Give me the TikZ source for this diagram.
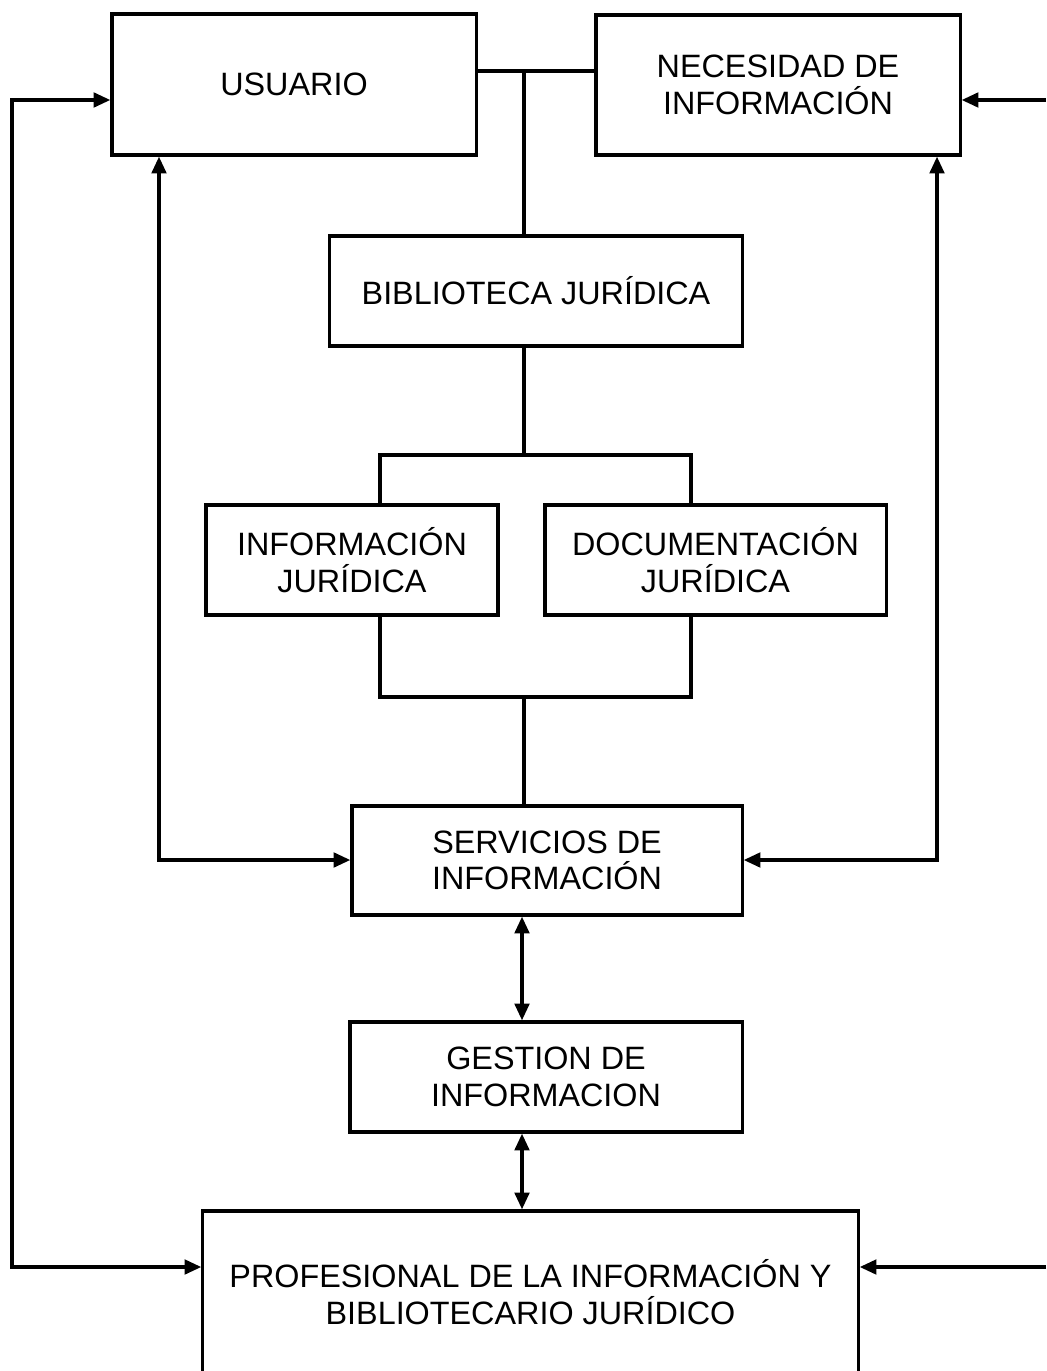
\documentclass[tikz,border=0pt]{standalone}
\usepackage{fontspec}
\setmainfont{Liberation Sans}
\usetikzlibrary{arrows.meta}
\begin{document}
\begin{tikzpicture}[x=0.025cm,y=-0.025cm,
  box/.style={draw, line width=2.2pt, inner sep=0pt, align=center,
    font=\fontsize{23}{26}\selectfont},
  link/.style={line width=2.6pt},
  arr/.style={line width=2.6pt, -{Triangle[length=0.42cm,width=0.36cm]}},
  darr/.style={line width=2.6pt, {Triangle[length=0.42cm,width=0.36cm]}-{Triangle[length=0.42cm,width=0.36cm]}}]
\clip (0,0) rectangle (1046,1371);
\fill[white] (0,0) rectangle (1046,1371);
% boxes
\node[box, minimum width=9.1cm, minimum height=3.525cm] (usu) at (294,84.5) {USUARIO};
\node[box, minimum width=9.1cm, minimum height=3.5cm] (nec) at (778,85) {NECESIDAD DE\\INFORMACIÓN};
\node[box, minimum width=10.3cm, minimum height=2.75cm] (bib) at (536,291) {BIBLIOTECA JURÍDICA};
\node[box, minimum width=7.3cm, minimum height=2.75cm] (inf) at (352,560) {INFORMACIÓN\\JURÍDICA};
\node[box, minimum width=8.525cm, minimum height=2.75cm] (doc) at (715.5,560) {DOCUMENTACIÓN\\JURÍDICA};
\node[box, minimum width=9.75cm, minimum height=2.725cm] (ser) at (547,860.5) {SERVICIOS DE\\INFORMACIÓN};
\node[box, minimum width=9.8cm, minimum height=2.75cm] (ges) at (546,1077) {GESTION DE\\INFORMACION};
\node[box, minimum width=16.375cm, minimum height=4.05cm] (pro) at (530.5,1292) {PROFESIONAL DE LA INFORMACIÓN Y\\BIBLIOTECARIO JURÍDICO};
% coordinates
\coordinate (j1) at (524,71);
\coordinate (t) at (524,455);
\coordinate (tl) at (380,455);
\coordinate (tr) at (691,455);
\coordinate (b) at (524,697);
\coordinate (bl) at (380,697);
\coordinate (br) at (691,697);
\coordinate (m) at (522,960);
\coordinate (L1) at (12,100);
\coordinate (L2) at (12,1267);
\coordinate (A) at (159,860);
\coordinate (B) at (937,860);
\coordinate (R1) at (1046,100);
\coordinate (R2) at (1046,1267);
% connectors
\draw[link] (usu.east |- j1) -- (nec.west |- j1);
\draw[link] (j1) -- (bib.north -| j1);
\draw[link] (bib.south -| t) -- (t);
\draw[link] (inf.north -| tl) -- (tl) -- (tr) -- (doc.north -| tr);
\draw[link] (inf.south -| bl) -- (bl) -- (br) -- (doc.south -| br);
\draw[link] (b) -- (ser.north -| b);
\draw[darr] (ser.south -| m) -- (ges.north -| m);
\draw[darr] (ges.south -| m) -- (pro.north -| m);
\draw[darr] (usu.west |- L1) -- (L1) -- (L2) -- (pro.west |- L2);
\draw[darr] (usu.south -| A) -- (A) -- (ser.west |- A);
\draw[darr] (nec.south -| B) -- (B) -- (ser.east |- B);
\draw[arr] (R1) -- (nec.east |- R1);
\draw[arr] (R2) -- (pro.east |- R2);
\end{tikzpicture}
\end{document}
